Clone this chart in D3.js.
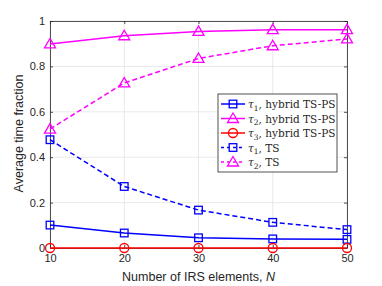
<!DOCTYPE html>
<html>
<head>
<meta charset="utf-8">
<script src="https://cdn.jsdelivr.net/npm/d3@7"></script>
<style>
  body { margin: 0; background: #fff; }
  text { font-family: "Liberation Sans", Arial, sans-serif; }
  .leg text { font-family: "DejaVu Serif", "Liberation Serif", serif; }
</style>
</head>
<body>
<div id="chart"></div>
<script>
var elements = [10, 20, 30, 40, 50];
var yTicks = [0, 0.2, 0.4, 0.6, 0.8, 1];
var tau1Hybrid = [0.101, 0.066, 0.045, 0.040, 0.038];
var tau2Hybrid = [0.899, 0.935, 0.954, 0.962, 0.962];
var tau3Hybrid = [0, 0, 0, 0, 0];
var tau1TS = [0.477, 0.271, 0.167, 0.113, 0.081];
var tau2TS = [0.524, 0.727, 0.835, 0.891, 0.921];

var series = [
  { sub: '1', name: 'hybrid TS-PS', values: tau1Hybrid, color: '#0000ff', marker: 'square', dash: null },
  { sub: '2', name: 'hybrid TS-PS', values: tau2Hybrid, color: '#ff00ff', marker: 'triangle', dash: null },
  { sub: '3', name: 'hybrid TS-PS', values: tau3Hybrid, color: '#ff0000', marker: 'circle', dash: null },
  { sub: '1', name: 'TS', values: tau1TS, color: '#0000ff', marker: 'square', dash: '5,3' },
  { sub: '2', name: 'TS', values: tau2TS, color: '#ff00ff', marker: 'triangle', dash: '5,3' }
];

var W = 382, H = 286,
    margin = { left: 50, right: 35, top: 21, bottom: 38 };

var svg = d3.select('#chart').append('svg')
  .attr('width', W).attr('height', H);

var x = d3.scaleLinear().domain([10, 50]).range([margin.left, W - margin.right]);
var y = d3.scaleLinear().domain([0, 1]).range([H - margin.bottom, margin.top]);

// grid
svg.append('g').selectAll('line.gx').data(elements).enter().append('line')
  .attr('x1', function(d) { return x(d); }).attr('x2', function(d) { return x(d); })
  .attr('y1', y(0)).attr('y2', y(1))
  .attr('stroke', '#e3e3e3').attr('stroke-width', 0.8);
svg.append('g').selectAll('line.gy').data(yTicks).enter().append('line')
  .attr('y1', function(d) { return y(d); }).attr('y2', function(d) { return y(d); })
  .attr('x1', x(10)).attr('x2', x(50))
  .attr('stroke', '#e3e3e3').attr('stroke-width', 0.8);

// axes
var xAxis = svg.append('g').attr('transform', 'translate(0,' + y(0) + ')')
  .call(d3.axisBottom(x).tickValues(elements).tickSizeInner(-3).tickSizeOuter(0).tickPadding(6));
var yAxis = svg.append('g').attr('transform', 'translate(' + x(10) + ',0)')
  .call(d3.axisLeft(y).tickValues(yTicks).tickFormat(d3.format('~g')).tickSizeInner(-3).tickSizeOuter(0).tickPadding(5));
svg.append('g').attr('transform', 'translate(0,' + y(1) + ')')
  .call(d3.axisTop(x).tickValues(elements).tickSizeInner(-3).tickSizeOuter(0).tickFormat(''));
svg.append('g').attr('transform', 'translate(' + x(50) + ',0)')
  .call(d3.axisRight(y).tickValues(yTicks).tickSizeInner(-3).tickSizeOuter(0).tickFormat(''));

svg.selectAll('.domain').attr('stroke', '#262626').attr('stroke-width', 0.8);
svg.selectAll('.tick line').attr('stroke', '#262626').attr('stroke-width', 0.8);
svg.selectAll('.tick text').attr('fill', '#262626').style('font-size', '11px')
  .style('font-family', '"Liberation Sans", Arial, sans-serif');

// axis labels
svg.append('text')
  .attr('x', (x(10) + x(50)) / 2).attr('y', H - 5)
  .attr('text-anchor', 'middle').attr('fill', '#262626').style('font-size', '12.5px')
  .html('Number of IRS elements, <tspan font-style="italic">N</tspan>');
svg.append('text')
  .attr('transform', 'translate(23,' + (y(0.5) - 1) + ') rotate(-90)')
  .attr('text-anchor', 'middle').attr('fill', '#262626').style('font-size', '12.5px')
  .text('Average time fraction');

var drawMarker = function(sel, type, color) {
  if (type === 'square') {
    sel.append('rect').attr('x', -3.8).attr('y', -3.8).attr('width', 7.6).attr('height', 7.6)
      .attr('fill', 'none').attr('stroke', color).attr('stroke-width', 1.3);
  } else if (type === 'triangle') {
    sel.append('path').attr('d', 'M0,-5.5L5.5,4L-5.5,4Z')
      .attr('fill', 'none').attr('stroke', color).attr('stroke-width', 1.3);
  } else {
    sel.append('circle').attr('r', 4.5)
      .attr('fill', 'none').attr('stroke', color).attr('stroke-width', 1.3);
  }
};

var line = d3.line()
  .x(function(d, i) { return x(elements[i]); })
  .y(function(d) { return y(d); });

series.forEach(function(s) {
  svg.append('path').datum(s.values)
    .attr('d', line)
    .attr('fill', 'none')
    .attr('stroke', s.color)
    .attr('stroke-width', 1.5)
    .attr('stroke-dasharray', s.dash);
  s.values.forEach(function(v, i) {
    var g = svg.append('g').attr('transform', 'translate(' + x(elements[i]) + ',' + y(v) + ')');
    drawMarker(g, s.marker, s.color);
  });
});

// legend
var legX = 218, legY = 94, legW = 119, rowH = 14.5;
var leg = svg.append('g').attr('class', 'leg');
leg.append('rect').attr('x', legX).attr('y', legY).attr('width', legW).attr('height', 78)
  .attr('fill', '#fff').attr('stroke', '#262626').attr('stroke-width', 0.8);

series.forEach(function(s, i) {
  var cy = legY + 10 + i * rowH;
  leg.append('line').attr('x1', legX + 3).attr('x2', legX + 27)
    .attr('y1', cy).attr('y2', cy)
    .attr('stroke', s.color).attr('stroke-width', 1.5)
    .attr('stroke-dasharray', s.dash ? '3,3' : null);
  var g = leg.append('g').attr('transform', 'translate(' + (legX + 15) + ',' + cy + ')');
  drawMarker(g, s.marker, s.color);
  var t = leg.append('text').attr('x', legX + 30).attr('y', cy + 4)
    .attr('fill', '#262626').style('font-size', '10.5px');
  t.append('tspan').attr('font-style', 'italic').text('\u03c4');
  t.append('tspan').attr('dy', 2.5).style('font-size', '7.5px').text(s.sub);
  t.append('tspan').attr('dy', -2.5).text(', ' + s.name);
});
</script>
</body>
</html>
